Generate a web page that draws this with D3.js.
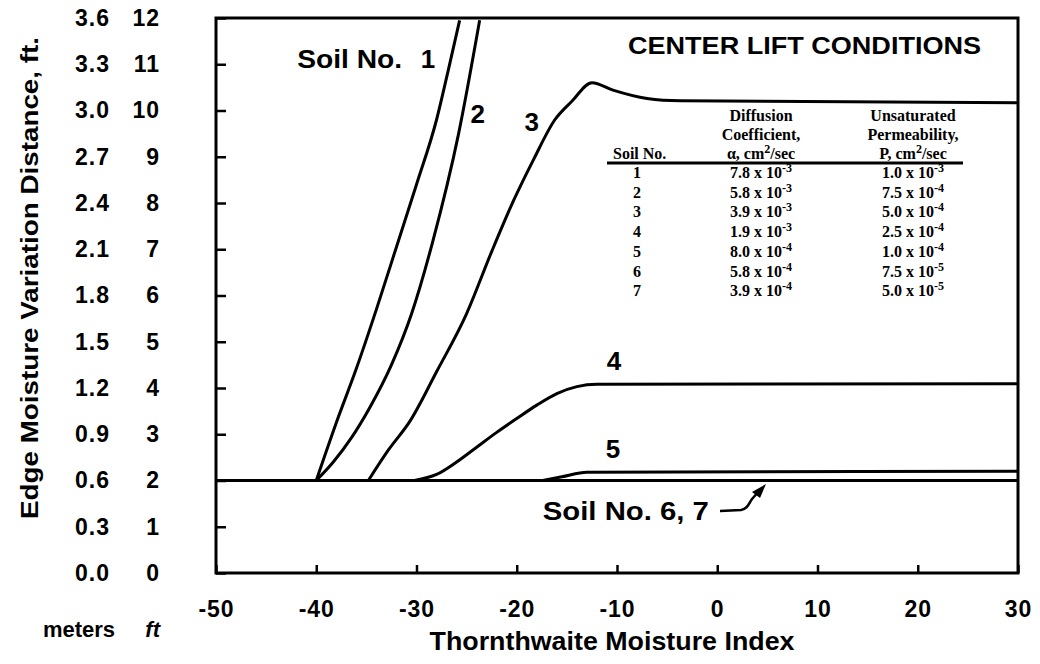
<!DOCTYPE html>
<html>
<head>
<meta charset="utf-8">
<script src="https://cdn.jsdelivr.net/npm/d3@7"></script>
<style>
  body { margin: 0; background: #fff; }
  svg { display: block; }
  .sans { font-family: "Liberation Sans", Arial, sans-serif; }
  .serif { font-family: "Liberation Serif", "Times New Roman", serif; font-weight: bold; }
</style>
</head>
<body>
<svg id="chart" width="1040" height="664"></svg>
<script>
// x: Thornthwaite moisture index, y: edge moisture variation distance (ft)
var xTicks = [-50, -40, -30, -20, -10, 0, 10, 20, 30];
var ftTicks = [0, 1, 2, 3, 4, 5, 6, 7, 8, 9, 10, 11, 12];
var meterLabels = ["0.0", "0.3", "0.6", "0.9", "1.2", "1.5", "1.8", "2.1", "2.4", "2.7", "3.0", "3.3", "3.6"];

// curves, [index, ft]
var soil1 = [[-40, 2], [-38, 3.25], [-36, 4.42], [-34, 5.7], [-32, 7.05], [-30, 8.4], [-28, 9.8], [-26.8, 10.9], [-25.7, 11.95]];
var soil2 = [[-40, 2], [-38.3, 2.4], [-36.5, 2.92], [-34.6, 3.6], [-32.5, 4.5], [-30.5, 5.6], [-28.4, 7.15], [-25.8, 9.5], [-23.7, 11.95]];
var soil3 = [[-34.8, 2], [-32.8, 2.66], [-30.6, 3.3], [-28, 4.35], [-25, 5.61], [-22.5, 6.95], [-20.3, 8.06], [-18.3, 8.95],
  [-16.2, 9.8], [-14.5, 10.2], [-12.5, 10.6], [-10.4, 10.44], [-7, 10.26], [-3.7, 10.21], [30, 10.17]];
var soil4 = [[-30.2, 2], [-28, 2.13], [-26, 2.4], [-24, 2.72], [-22, 3.04], [-20, 3.34], [-18, 3.63], [-16, 3.88], [-14, 4.03], [-12, 4.08], [30, 4.09]];
var soil5 = [[-17.4, 2], [-15.5, 2.08], [-13, 2.18], [30, 2.2]];
var soil67 = [[-50, 2], [30, 2]];

// table
var soilNos = ["1", "2", "3", "4", "5", "6", "7"];
var alphaMant = ["7.8", "5.8", "3.9", "1.9", "8.0", "5.8", "3.9"];
var alphaExp = ["-3", "-3", "-3", "-3", "-4", "-4", "-4"];
var permMant = ["1.0", "7.5", "5.0", "2.5", "1.0", "7.5", "5.0"];
var permExp = ["-3", "-4", "-4", "-4", "-4", "-5", "-5"];

var svg = d3.select("#chart");
var plotLeft = 216, plotRight = 1018, plotTop = 18, plotBottom = 573;

var x = d3.scaleLinear().domain([-50, 30]).range([plotLeft, plotRight]);
var y = d3.scaleLinear().domain([0, 12]).range([plotBottom, plotTop]);

// axes
var xAxis = svg.append("g").attr("class", "sans")
  .attr("transform", "translate(0," + plotBottom + ")")
  .call(d3.axisBottom(x).tickValues(xTicks).tickSize(-8).tickPadding(27).tickFormat(function(d) { return String(d); }));
var yAxis = svg.append("g").attr("class", "sans")
  .attr("transform", "translate(" + plotLeft + ",0)")
  .call(d3.axisLeft(y).tickValues(ftTicks).tickSize(-10).tickPadding(56));
var mAxis = svg.append("g").attr("class", "sans")
  .attr("transform", "translate(" + plotLeft + ",0)")
  .call(d3.axisLeft(y).tickValues(ftTicks).tickSize(0).tickPadding(106)
    .tickFormat(function(d, i) { return meterLabels[i]; }));

[xAxis, yAxis, mAxis].forEach(function(g) {
  g.select(".domain").remove();
  g.selectAll("line").attr("stroke", "#000").attr("stroke-width", 2.5);
  g.selectAll("text").attr("fill", "#000").style("font-size", "23px").style("font-weight", "bold")
    .style("letter-spacing", "1px");
});
xAxis.selectAll("text").attr("dy", null).attr("y", 44);

// frame
svg.append("rect")
  .attr("x", plotLeft).attr("y", plotTop)
  .attr("width", plotRight - plotLeft).attr("height", plotBottom - plotTop)
  .attr("fill", "none").attr("stroke", "#000").attr("stroke-width", 3);

// curves
var line = d3.line()
  .x(function(d) { return x(d[0]); })
  .y(function(d) { return y(d[1]); })
  .curve(d3.curveMonotoneX);

[soil67, soil1, soil2, soil3, soil4, soil5].forEach(function(s) {
  svg.append("path").datum(s)
    .attr("d", line)
    .attr("fill", "none").attr("stroke", "#000")
    .attr("stroke-width", 3).attr("stroke-linejoin", "round");
});

// curve labels
function label(txt, xv, yv, size, anchor, len) {
  var t = svg.append("text").attr("class", "sans")
    .attr("x", x(xv)).attr("y", y(yv))
    .attr("text-anchor", anchor || "middle")
    .style("font-size", size + "px").style("font-weight", "bold")
    .text(txt);
  if (len) t.attr("textLength", len).attr("lengthAdjust", "spacingAndGlyphs");
  return t;
}
label("Soil No.", -41.9, 10.92, 26, "start", 105);
label("1", -28.85, 10.92, 26);
label("2", -23.9, 9.73, 26);
label("3", -18.5, 9.55, 26);
label("4", -10.3, 4.38, 26);
label("5", -10.4, 2.48, 26);
label("Soil No. 6, 7", -17.4, 1.15, 25, "start", 166);
label("CENTER LIFT CONDITIONS", -8.9, 11.22, 24, "start", 353);

// arrow to soil 6,7 line
svg.append("path")
  .attr("d", "M720,511 L741,510 C748,509 749,503 752,499 L760,490")
  .attr("fill", "none").attr("stroke", "#000").attr("stroke-width", 2.5);
svg.append("path")
  .attr("d", "M766,484 L752,492 L760,498 Z")
  .attr("fill", "#000");

// axis titles
svg.append("text").attr("class", "sans")
  .attr("transform", "translate(38,278) rotate(-90)")
  .attr("text-anchor", "middle")
  .attr("textLength", 482).attr("lengthAdjust", "spacingAndGlyphs")
  .style("font-size", "24px").style("font-weight", "600")
  .text("Edge Moisture Variation Distance, ft.");
svg.append("text").attr("class", "sans")
  .attr("x", 612).attr("y", 650)
  .attr("text-anchor", "middle")
  .attr("textLength", 365).attr("lengthAdjust", "spacingAndGlyphs")
  .style("font-size", "25px").style("font-weight", "600")
  .text("Thornthwaite Moisture Index");
svg.append("text").attr("class", "sans")
  .attr("x", 79).attr("y", 637).attr("text-anchor", "middle")
  .style("font-size", "22px").style("font-weight", "bold").text("meters");
svg.append("text").attr("class", "sans")
  .attr("x", 160).attr("y", 637).attr("text-anchor", "end")
  .style("font-size", "22px").style("font-weight", "bold").style("font-style", "italic").text("ft");

// table
var tbl = svg.append("g").attr("class", "serif").style("font-size", "16px");
var c1 = 637, c2 = 761, c3 = 913;
function cell(xp, yp, anchor) {
  return tbl.append("text").attr("x", xp).attr("y", yp).attr("text-anchor", anchor || "middle");
}
cell(c2, 121).text("Diffusion");
cell(c3, 121).text("Unsaturated");
cell(c2, 140).text("Coefficient,");
cell(c3, 140).text("Permeability,");
cell(613, 159, "start").text("Soil No.");
var h2 = cell(c2, 159);
h2.append("tspan").text("\u03b1, cm");
h2.append("tspan").attr("dy", -6).style("font-size", "12px").text("2");
h2.append("tspan").attr("dy", 6).text("/sec");
var h3 = cell(c3, 159);
h3.append("tspan").text("P, cm");
h3.append("tspan").attr("dy", -6).style("font-size", "12px").text("2");
h3.append("tspan").attr("dy", 6).text("/sec");
tbl.append("line").attr("x1", 607).attr("x2", 963).attr("y1", 163).attr("y2", 163)
  .attr("stroke", "#000").attr("stroke-width", 3);

soilNos.forEach(function(s, i) {
  var yp = 178 + i * 19.7;
  cell(c1, yp).text(s);
  var a = cell(c2, yp);
  a.append("tspan").text(alphaMant[i] + " x 10");
  a.append("tspan").attr("dy", -6).style("font-size", "12px").text(alphaExp[i]);
  var p = cell(c3, yp);
  p.append("tspan").text(permMant[i] + " x 10");
  p.append("tspan").attr("dy", -6).style("font-size", "12px").text(permExp[i]);
});
</script>
</body>
</html>
